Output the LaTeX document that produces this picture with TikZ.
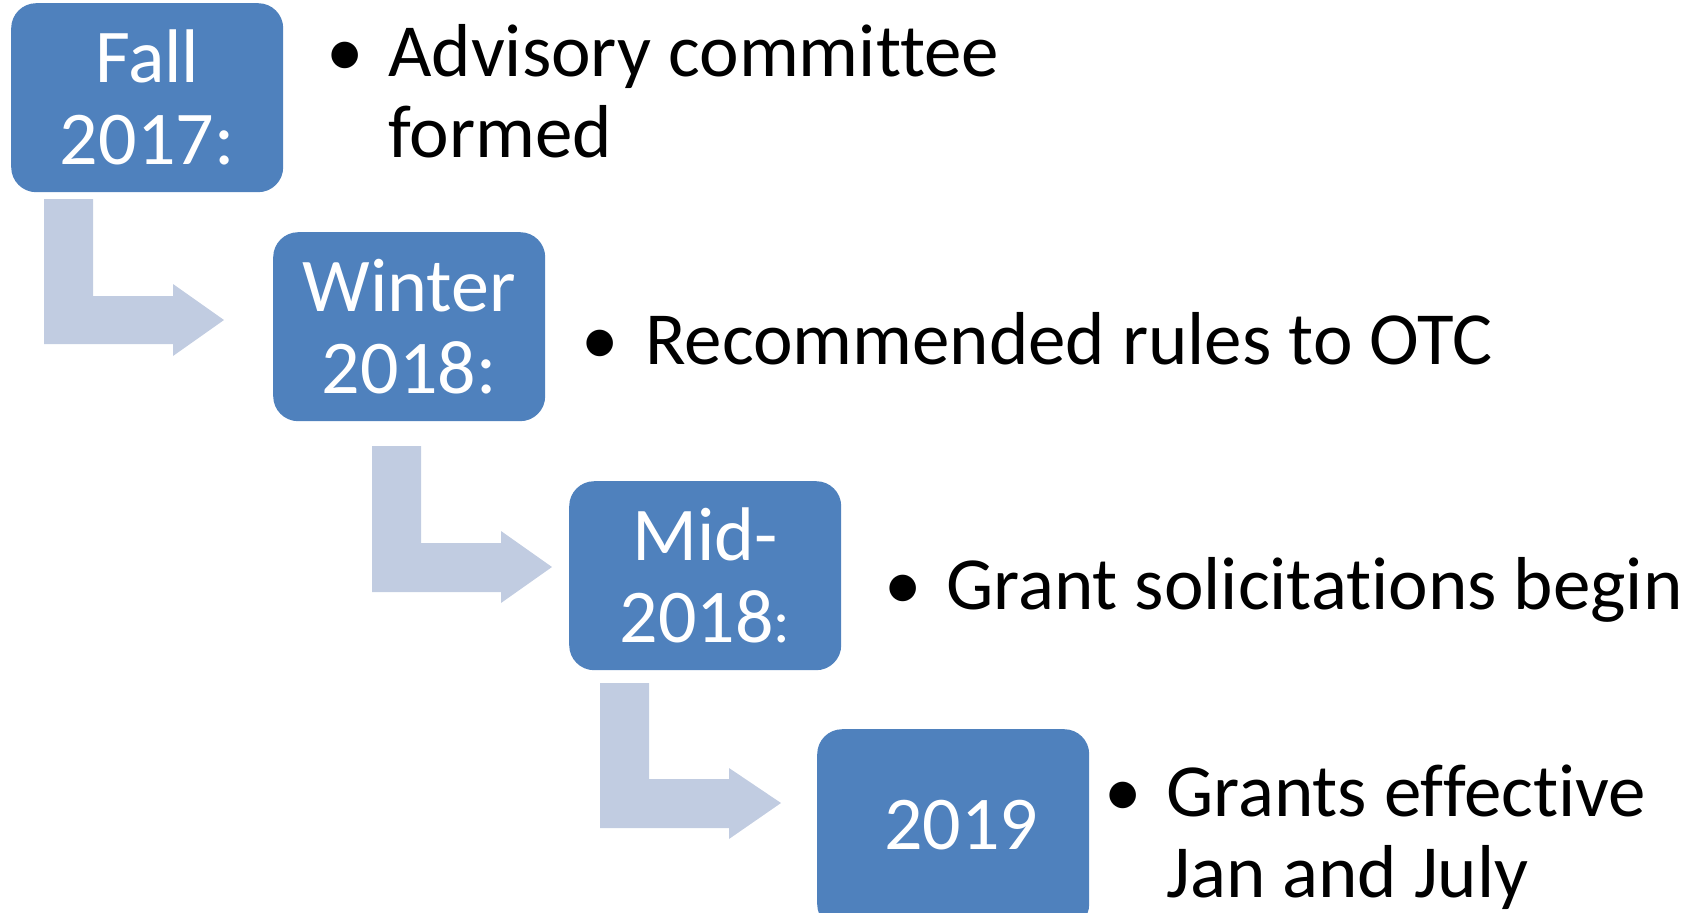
\documentclass[tikz,border=0pt]{standalone}
\usepackage{fontspec}
\setmainfont{Carlito}[Ligatures={NoCommon,NoContextual}]
\definecolor{boxblue}{HTML}{4F81BD}
\definecolor{arrowblue}{HTML}{C1CCE1}
\begin{document}
\begin{tikzpicture}[x=1pt,y=-1pt,
  stagebox/.style={fill=boxblue, rounded corners=25pt, anchor=north west, minimum width=272pt, minimum height=189pt, text=white, align=center, inner sep=0pt, font=\fontsize{76}{82}\selectfont},
  bentarrow/.style={fill=arrowblue},
  itemtext/.style={anchor=base west, inner sep=0pt, text=black, font=\fontsize{75}{81}\selectfont},
  itemdot/.style={anchor=base, inner sep=0pt, text=black, font=\fontsize{75}{81}\selectfont}]
\useasboundingbox (0,0) rectangle (1690,913);
\clip (0,0) rectangle (1690,913);
% bent arrows
\fill[bentarrow] (44,199) -- (93,199) -- (93,296) -- (173,296) -- (173,284) -- (224,320) -- (173,356) -- (173,344) -- (44,344) -- cycle;
\fill[bentarrow] (372,446) -- (421,446) -- (421,543) -- (501,543) -- (501,531) -- (552,567) -- (501,603) -- (501,592) -- (372,592) -- cycle;
\fill[bentarrow] (600,683) -- (649,683) -- (649,779) -- (729,779) -- (729,768) -- (781,803) -- (729,839) -- (729,828) -- (600,828) -- cycle;
% boxes
\node[stagebox] (b1) at (11,3) {Fall\\2017:};
\node[stagebox] (b2) at (273,232) {Winter\\2018:};
\node[stagebox] (b3) at (569,481) {Mid-\\2018{\fontsize{62}{82}\selectfont:}};
\node[stagebox, minimum height=200pt] (b4) at (817,729) {\raisebox{9pt}{\hspace{16pt}2019}};
% bullets and texts
\node[itemdot] (d1) at (345,76) {\textbullet};
\node[itemtext] (t1) at (388,76) {\begin{tabular}[t]{@{}l@{}}Advisory committee\\formed\end{tabular}};
\node[itemdot] (d2) at (600,364) {\textbullet};
\node[itemtext] (t2) at (645,364) {Recommended rules to OTC};
\node[itemdot] (d3) at (903,609) {\textbullet};
\node[itemtext] (t3) at (946,609) {Grant solicitations begin};
\node[itemdot] (d4) at (1123,816) {\textbullet};
\node[itemtext] (t4) at (1166,816) {\begin{tabular}[t]{@{}l@{}}Grants effective\\Jan and July\end{tabular}};
\end{tikzpicture}
\end{document}
